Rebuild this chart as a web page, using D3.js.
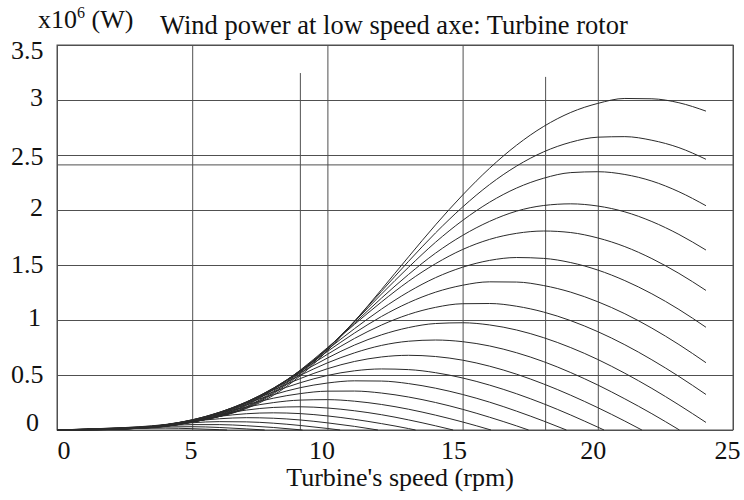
<!DOCTYPE html>
<html><head><meta charset="utf-8">
<script src="https://cdn.jsdelivr.net/npm/d3@7"></script>
<style>body{margin:0;background:#fff}svg{display:block}
text{font-family:"Liberation Serif","DejaVu Serif","Times New Roman",serif;fill:#111}</style>
</head><body><svg id="c" width="744" height="500"></svg>
<script>
// Turbine speed grid (rpm)
const rpm = [0,1,2,3,4,5,6,7,8,9,10,11,12,13,14,15,16,17,18,19,20,21,22,23,24];
// Wind speed of each curve (m/s), highest first
const windSpeed = [25,24,23,22,21,20,19,18,17,16,15,14,13,12,11,10,9,8,7,6,5,4];
// Power (x10^6 W) at each rpm of the grid
const p25 = [0,.008,.017,.029,.050,.088,.123,.195,.315,.494,.721,.987,1.277,1.574,1.865,2.136,2.380,2.590,2.760,2.887,2.969,3.014,3.011,2.975,2.899];
const p24 = [0,.008,.016,.027,.047,.082,.124,.200,.330,.510,.735,.989,1.261,1.533,1.792,2.027,2.232,2.400,2.529,2.616,2.662,2.667,2.634,2.567,2.461];
const p23 = [0,.007,.015,.025,.044,.078,.122,.207,.339,.524,.741,.984,1.236,1.479,1.707,1.905,2.071,2.200,2.289,2.340,2.348,2.323,2.263,2.166,2.039];
const p22 = [0,.006,.014,.024,.042,.075,.123,.211,.351,.533,.743,.971,1.199,1.414,1.608,1.769,1.897,1.990,2.041,2.056,2.036,1.983,1.895,1.778,1.636];
const p21 = [0,.006,.013,.022,.040,.073,.126,.223,.366,.545,.748,.960,1.164,1.352,1.512,1.641,1.733,1.788,1.809,1.795,1.746,1.667,1.558,1.424,1.269];
const p20 = [0,.005,.012,.021,.037,.072,.129,.228,.371,.542,.731,.921,1.099,1.256,1.385,1.480,1.542,1.568,1.560,1.522,1.454,1.358,1.238,1.096,.934];
const p19 = [0,.005,.011,.019,.035,.071,.133,.236,.377,.540,.714,.881,1.032,1.157,1.253,1.316,1.347,1.345,1.313,1.253,1.166,1.057,.926,.777,.612];
const p18 = [0,.005,.010,.018,.033,.072,.138,.245,.380,.533,.688,.832,.954,1.050,1.115,1.148,1.150,1.125,1.072,.994,.894,.775,.638,.487,.323];
const p17 = [0,.004,.009,.017,.033,.073,.144,.251,.380,.520,.654,.772,.865,.931,.968,.975,.955,.909,.839,.749,.641,.516,.378,.228,.069];
const p16 = [0,.004,.009,.017,.034,.076,.150,.254,.375,.498,.610,.701,.769,.807,.818,.803,.764,.702,.621,.522,.409,.283,.148];
const p15 = [0,.004,.009,.016,.034,.080,.156,.255,.364,.468,.557,.623,.664,.679,.668,.635,.580,.507,.418,.316,.203,.081];
const p14 = [0,.004,.009,.015,.036,.084,.159,.252,.346,.430,.496,.538,.555,.549,.521,.473,.408,.329,.238,.136,.026];
const p13 = [0,.004,.008,.015,.038,.088,.161,.244,.321,.385,.427,.447,.445,.422,.380,.323,.253,.171,.081];
const p12 = [0,.004,.008,.015,.040,.091,.159,.229,.289,.331,.353,.354,.336,.300,.250,.188,.116,.037];
const p11 = [0,.003,.007,.015,.043,.093,.152,.208,.249,.272,.276,.262,.232,.189,.135,.073];
const p10 = [0,.003,.006,.016,.046,.092,.141,.181,.205,.211,.200,.175,.139,.092,.038];
const p9  = [0,.002,.005,.017,.047,.088,.124,.148,.156,.149,.128,.097,.058,.013];
const p8  = [0,.002,.005,.018,.047,.079,.102,.112,.107,.091,.065,.033];
const p7  = [0,.001,.005,.020,.045,.066,.076,.074,.062,.041,.014];
const p6  = [0,.001,.005,.020,.038,.049,.049,.039,.023];
const p5  = [0,.001,.006,.018,.028,.030,.023,.010];
const p4  = [0,.001,.006,.014,.017,.012,.003];
// rpm where a curve falls back to zero power (null: still positive at 24 rpm)
const zeroRpm = [null,null,null,null,null,null,null,null,null,23.02,21.63,20.23,18.84,17.44,16.05,14.65,13.26,11.87,10.47,9.08,7.68,6.29];
const series = [p25,p24,p23,p22,p21,p20,p19,p18,p17,p16,p15,p14,p13,p12,p11,p10,p9,p8,p7,p6,p5,p4];

// Axis ticks
const xTicks = [0,5,10,15,20,25];
const yTicks = [0,0.5,1,1.5,2,2.5,3,3.5];
const yTickLabels = ["0","0.5","1","1.5","2","2.5","3","3.5"];
// Reference marker lines
const markerRpm = [9,18.07];
const markerTop = [3.245,3.21];
const markerPower = [2.41];

const title = "Wind power at low speed axe: Turbine rotor";
const xTitle = "Turbine's speed (rpm)";

// ---- layout (pixels) ----
const L = 57, R = 733, T = 45, B = 430;
const xLabelShift = [6.5,-1.7,-6,-9,-5,-6];              // label centre offset from its grid line
const yLabelRight = [39,43.5,41,43.5,43,43.5,43,43.5];   // right edge of each y label (page x)
const yLabelBase  = [430.5,382,325.5,272,215,164,105.5,58]; // baselines (page y)

const svg = d3.select("#c");
const x = d3.scaleLinear().domain([0,25]).range([L,R]);
const y = d3.scaleLinear().domain([0,3.5]).range([B,T]);
const gridColor = "#505050";

// grid via axes
const gx = svg.append("g").attr("transform",`translate(0,${B})`)
  .call(d3.axisBottom(x).tickValues(xTicks).tickSize(-(B-T)).tickPadding(11).tickFormat(d3.format("d")));
gx.attr("font-family",null).attr("font-size",null);
gx.select(".domain").remove();
gx.selectAll(".tick line").attr("stroke",gridColor).attr("stroke-width",1);
gx.selectAll(".tick text").style("font-size","26px").attr("dy","0.71em")
  .attr("dx",(d,i)=>xLabelShift[i]);

const gy = svg.append("g").attr("transform",`translate(${L},0)`)
  .call(d3.axisLeft(y).tickValues(yTicks).tickSize(-(R-L)).tickFormat((d,i)=>yTickLabels[i]));
gy.attr("font-family",null).attr("font-size",null);
gy.select(".domain").remove();
gy.selectAll(".tick line").attr("stroke",gridColor).attr("stroke-width",1);
gy.selectAll(".tick").each(function(d,i){
  const yy = y(d);
  d3.select(this).select("text").style("font-size","26px")
    .attr("text-anchor","end").attr("dy",null)
    .attr("x",yLabelRight[i]-L).attr("y",yLabelBase[i]-yy);
});

// frame
svg.append("rect").attr("x",L).attr("y",T).attr("width",R-L).attr("height",B-T)
  .attr("fill","none").attr("stroke",gridColor).attr("stroke-width",1);

// markers
svg.selectAll("line.mv").data(markerRpm).join("line").attr("class","mv")
  .attr("x1",d=>x(d)).attr("x2",d=>x(d)).attr("y1",B).attr("y2",(d,i)=>y(markerTop[i]))
  .attr("stroke",gridColor).attr("stroke-width",1);
svg.selectAll("line.mh").data(markerPower).join("line").attr("class","mh")
  .attr("x1",L).attr("x2",R).attr("y1",d=>y(d)).attr("y2",d=>y(d))
  .attr("stroke",gridColor).attr("stroke-width",1);

// curves
const line = d3.line().x(d=>x(d[0])).y(d=>y(d[1])).curve(d3.curveMonotoneX);
const curveData = series.map((vals,i)=>{
  const pts = vals.map((v,j)=>[rpm[j],v]);
  if (zeroRpm[i] !== null) pts.push([zeroRpm[i],0]);
  return pts;
});
svg.append("g").selectAll("path").data(curveData).join("path")
  .attr("d",line).attr("fill","none").attr("stroke","#2a2a2a").attr("stroke-width",1);

// texts
svg.append("text").attr("x",160).attr("y",34).style("font-size","26.5px").text(title);
const u = svg.append("text").attr("x",38).attr("y",28).style("font-size","26px");
u.append("tspan").text("x10");
u.append("tspan").attr("dy",-10).style("font-size","16px").text("6");
u.append("tspan").attr("dy",10).text(" (W)");
svg.append("text").attr("x",400).attr("y",486).attr("text-anchor","middle")
  .style("font-size","26px").text(xTitle);
</script></body></html>
